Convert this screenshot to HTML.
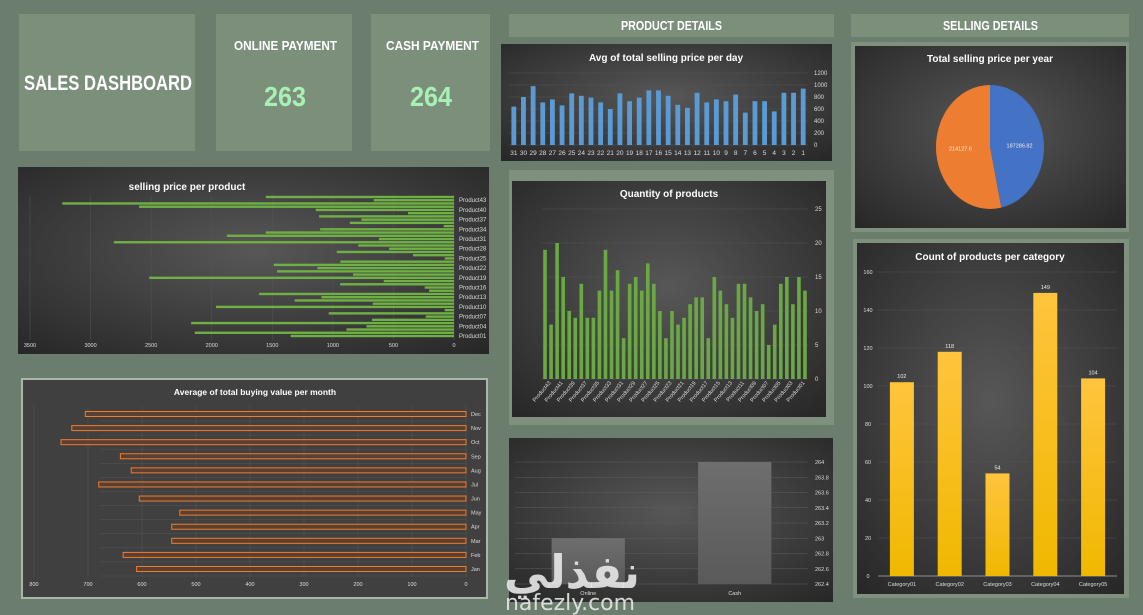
<!DOCTYPE html>
<html><head><meta charset="utf-8">
<style>
html,body{margin:0;padding:0;background:#6b7d6d;width:1143px;height:615px;overflow:hidden;font-family:"Liberation Sans",sans-serif}
svg{display:block}
</style></head>
<body>
<svg id="root" width="1143" height="615" viewBox="0 0 1143 615" xmlns="http://www.w3.org/2000/svg">
<defs>
<radialGradient id="dark" cx="50%" cy="45%" r="75%">
<stop offset="0" stop-color="#575757"/><stop offset="1" stop-color="#262626"/>
</radialGradient>
<linearGradient id="gold" x1="0" y1="0" x2="0" y2="1">
<stop offset="0" stop-color="#ffc43d"/><stop offset="1" stop-color="#f0b800"/>
</linearGradient>
<linearGradient id="grey" x1="0" y1="0" x2="0" y2="1">
<stop offset="0" stop-color="#6e6e6e"/><stop offset="1" stop-color="#5a5a5a"/>
</linearGradient>
</defs>
<rect x="0" y="0" width="1143" height="615" fill="#6b7d6d"/>
<!-- KPI cards -->
<rect x="19" y="14" width="176" height="137" fill="#7b8f7b"/>
<text x="24" y="90" fill="#fff" font-size="21" font-weight="bold" textLength="168" lengthAdjust="spacingAndGlyphs">SALES DASHBOARD</text>
<rect x="216" y="14" width="136" height="137" fill="#7b8f7b"/>
<text x="234" y="50" fill="#fff" font-size="13" font-weight="bold" textLength="103" lengthAdjust="spacingAndGlyphs">ONLINE PAYMENT</text>
<text x="285" y="106" text-anchor="middle" fill="#a8f0b4" font-size="28" font-weight="bold" textLength="42" lengthAdjust="spacingAndGlyphs">263</text>
<rect x="371" y="14" width="119" height="137" fill="#7b8f7b"/>
<text x="386" y="50" fill="#fff" font-size="13" font-weight="bold" textLength="93" lengthAdjust="spacingAndGlyphs">CASH PAYMENT</text>
<text x="431" y="106" text-anchor="middle" fill="#a8f0b4" font-size="28" font-weight="bold" textLength="42" lengthAdjust="spacingAndGlyphs">264</text>
<!-- Section headers -->
<rect x="509" y="14" width="325" height="23" fill="#7b8f7b"/>
<text x="621" y="30" fill="#fff" font-size="13" font-weight="bold" textLength="101" lengthAdjust="spacingAndGlyphs">PRODUCT DETAILS</text>
<rect x="851" y="14" width="278" height="23" fill="#7b8f7b"/>
<text x="943" y="30" fill="#fff" font-size="13" font-weight="bold" textLength="95" lengthAdjust="spacingAndGlyphs">SELLING DETAILS</text>
<!-- chart panels -->
<rect x="501" y="44" width="331" height="117" fill="url(#dark)"/>
<rect x="18" y="167" width="471" height="187" fill="url(#dark)"/>
<rect x="509" y="170" width="325" height="255" fill="#7f907f"/>
<rect x="512" y="181" width="314" height="236" fill="url(#dark)"/>
<rect x="21" y="378" width="467" height="221" fill="#a9b6a9"/>
<rect x="23" y="380" width="463" height="217" fill="#404040"/>
<rect x="509" y="438" width="324" height="164" fill="url(#dark)"/>
<rect x="851" y="42" width="278" height="190" fill="#7f907f"/>
<rect x="855" y="46" width="271" height="182" fill="url(#dark)"/>
<rect x="853" y="239" width="276" height="359" fill="#7f907f"/>
<rect x="857" y="243" width="267" height="351" fill="url(#dark)"/>
<g id="charts"></g>
<!-- watermark -->
<text x="504" y="588" fill="#e8e8e8" fill-opacity="0.9" font-size="46" font-weight="bold" textLength="136" lengthAdjust="spacingAndGlyphs" font-family="DejaVu Sans, sans-serif">نفذلي</text>
<text x="505" y="610" fill="#e8e8e8" fill-opacity="0.9" font-size="22" textLength="130" lengthAdjust="spacingAndGlyphs" font-family="DejaVu Sans, sans-serif">nafezly.com</text>
</svg>
<script>
// ---- data ----
const dayLabels = [31,30,29,28,27,26,25,24,23,22,21,20,19,18,17,16,15,14,13,12,11,10,9,8,7,6,5,4,3,2,1];
const dayValues = [640,800,980,710,760,660,860,820,790,710,600,860,730,790,910,910,820,670,620,870,710,760,730,840,540,730,730,560,870,870,940];
const dayTicks = [0,200,400,600,800,1000,1200];

const qtyValues = [19,8,20,15,10,9,14,9,9,13,19,13,16,6,14,15,13,17,14,10,6,10,8,9,11,12,12,6,15,13,11,9,14,14,12,10,11,5,8,14,15,11,15,13];
const qtyTicks = [0,5,10,15,20,25];

const priceValues = [1554,663,3234,2600,1141,380,1114,765,860,85,1105,1554,1875,620,2808,790,536,968,338,77,938,1488,1128,1460,833,2516,580,940,242,206,1609,1095,1315,671,1964,77,1034,234,677,2170,723,888,2140,1348];
const priceTicks = [0,500,1000,1500,2000,2500,3000,3500];

const months = ["Dec","Nov","Oct","Sep","Aug","Jul","Jun","May","Apr","Mar","Feb","Jan"];
const monthValues = [705,730,750,640,620,680,605,530,545,545,635,610];
const monthTicks = [0,100,200,300,400,500,600,700,800];

const payLabels = ["Online","Cash"];
const payValues = [263,264];
const payTicks = [262.4,262.6,262.8,263,263.2,263.4,263.6,263.8,264];

const pieValues = [187286.82,214127.6];
const pieLabels = ["187286.82","214127.6"];

const catLabels = ["Category01","Category02","Category03","Category04","Category05"];
const catValues = [102,118,54,149,104];
const catTicks = [0,20,40,60,80,100,120,140,160];

const NS="http://www.w3.org/2000/svg";
const G=document.getElementById('charts');
function mk(tag,attrs,parent){const e=document.createElementNS(NS,tag);for(const k in attrs)e.setAttribute(k,attrs[k]);(parent||G).appendChild(e);return e;}
function txt(x,y,s,size,fill,anchor,weight,parent){const t=mk('text',{x:x,y:y,'font-size':size,fill:fill,'text-anchor':anchor||'start','font-weight':weight||'normal'},parent);t.textContent=s;return t;}

// ---- daily avg selling price ----
(function(){
  const x0=509,x1=808,yb=145,yt=73,max=1200;
  const ys=v=>yb-(v/max)*(yb-yt);
  const g=mk('g',{});
  
  
  const tt=txt(666,61,'Avg of total selling price per day',10,'#fff','middle','bold',g);
  
  
  dayTicks.forEach(t=>{mk('line',{x1:x0,x2:x1,y1:ys(t),y2:ys(t),stroke:'#555','stroke-width':0.6},g);txt(814,ys(t)+2,t,6,'#ddd','start','normal',g);});
  const step=(x1-x0)/dayValues.length;
  dayValues.forEach((v,i)=>{
    const b=mk('rect',{x:x0+i*step+step*0.25,y:ys(v),width:step*0.5,height:yb-ys(v),fill:'#5b9bd5'},g);
    
    
    txt(x0+i*step+step/2,155,dayLabels[i],6.5,'#ddd','middle','normal',g);
  });
})();

// ---- quantity of products ----
(function(){
  const x0=542,x1=808,yb=379,yt=209,max=25;
  const ys=v=>yb-(v/max)*(yb-yt);
  const g=mk('g',{});
  
  
  const tt=txt(669,197,'Quantity of products',10,'#fff','middle','bold',g);
  
  
  qtyTicks.forEach(t=>{mk('line',{x1:x0,x2:x1,y1:ys(t),y2:ys(t),stroke:'#555','stroke-width':0.6},g);txt(815,ys(t)+2,t,6,'#ddd','start','normal',g);});
  const step=(x1-x0)/qtyValues.length;
  qtyValues.forEach((v,i)=>{
    const b=mk('rect',{x:x0+i*step+step*0.2,y:ys(v),width:step*0.6,height:yb-ys(v),fill:'#6aa844'},g);
    
    
    const num=44-i;
    if(num%2===1){
      const cx=x0+i*step+step/2, cy=383;
      const l=txt(cx,cy,'Product'+String(num).padStart(2,'0'),5.5,'#ddd','end','normal',g);
      l.setAttribute('transform','rotate(-50 '+cx+' '+cy+')');
    }
  });
})();

// ---- selling price per product ----
(function(){
  const x0=454,xL=30,max=3500,yt=197,yb=336;
  const xs=v=>x0-(v/max)*(x0-xL);
  const g=mk('g',{});
  
  
  const tt=txt(187,190,'selling price per product',10,'#fff','middle','bold',g);
  
  
  priceTicks.forEach(t=>{mk('line',{x1:xs(t),x2:xs(t),y1:195,y2:340,stroke:'#555','stroke-width':0.5},g);txt(xs(t),347,t,5.5,'#ddd','middle','normal',g);});
  const n=priceValues.length, step=(yb-yt)/(n-1);
  priceValues.forEach((v,i)=>{
    const y=yt+i*step;
    const b=mk('rect',{x:xs(v),y:y-1.2,width:x0-xs(v),height:2.4,fill:'#6fb044'},g);
    
    
    const num=45-(i+1);
    if((num-1)%3===0) txt(459,y+2,'Product'+String(num).padStart(2,'0'),6,'#ddd','start','normal',g);
  });
})();

// ---- avg buying value per month ----
(function(){
  const x0=466,xL=34,max=800,yt=414,yb=569;
  const xs=v=>x0-(v/max)*(x0-xL);
  const g=mk('g',{});
  
  
  const tt=txt(255,395,'Average of total buying value per month',8.5,'#fff','middle','bold',g);
  
  
  monthTicks.forEach(t=>{mk('line',{x1:xs(t),x2:xs(t),y1:406,y2:577,stroke:'#5a5a5a','stroke-width':0.5},g);txt(xs(t),586,t,5.5,'#ddd','middle','normal',g);});
  const step=(yb-yt)/(monthValues.length-1);
  monthValues.forEach((v,i)=>{
    const y=yt+i*step;
    mk('line',{x1:100,x2:x0,y1:y+7,y2:y+7,stroke:'#555','stroke-width':0.5},g);
    const b=mk('rect',{x:xs(v),y:y-2.5,width:x0-xs(v),height:5,fill:'#5a4030',stroke:'#ed7d31','stroke-width':1},g);
    
    
    txt(471,y+2,months[i],5.5,'#ddd','start','normal',g);
  });
})();

// ---- payment comparison ----
(function(){
  const mn=262.4,mx=264,yb=584,yt=462,x0=515,x1=808;
  const ys=v=>yb-((v-mn)/(mx-mn))*(yb-yt);
  const g=mk('g',{});
  
  
  payTicks.forEach(t=>{mk('line',{x1:x0,x2:x1,y1:ys(t),y2:ys(t),stroke:'#5c5c5c','stroke-width':0.6},g);txt(815,ys(t)+2,String(t),5.5,'#ddd','start','normal',g);});
  const step=(x1-x0)/payValues.length;
  payValues.forEach((v,i)=>{
    const b=mk('rect',{x:x0+i*step+step*0.25,y:ys(v),width:step*0.5,height:yb-ys(v),fill:'url(#grey)'},g);
    
    
    txt(x0+i*step+step/2,595,payLabels[i],5.5,'#ddd','middle','normal',g);
  });
})();

// ---- pie ----
(function(){
  const cx=990,cy=147,rx=54,ry=62;
  const g=mk('g',{});
  
  
  const tt=txt(990,62,'Total selling price per year',10,'#fff','middle','bold',g);
  
  
  const tot=pieValues.reduce((a,b)=>a+b,0);
  const colors=['#4472c4','#ed7d31'];
  let a=-Math.PI/2;
  pieValues.forEach((v,i)=>{
    const da=v/tot*2*Math.PI, a2=a+da;
    const p=(t)=>[cx+rx*Math.cos(t),cy+ry*Math.sin(t)];
    const [x1,y1]=p(a),[x2,y2]=p(a2);
    const s=mk('path',{d:`M${cx},${cy} L${x1},${y1} A${rx},${ry} 0 ${da>Math.PI?1:0} 1 ${x2},${y2} Z`,fill:colors[i]},g);
    
    
    const m=a+da/2;
    txt(cx+rx*0.55*Math.cos(m),cy+ry*0.2*Math.sin(m)+2,pieLabels[i],5.5,'#eee','middle','normal',g);
    a=a2;
  });
})();

// ---- category ----
(function(){
  const x0=878,x1=1117,yb=576,yt=272,max=160;
  const ys=v=>yb-(v/max)*(yb-yt);
  const g=mk('g',{});
  
  
  const tt=txt(990,260,'Count of products per category',10,'#fff','middle','bold',g);
  
  
  catTicks.forEach(t=>{mk('line',{x1:x0,x2:x1,y1:ys(t),y2:ys(t),stroke:'#555','stroke-width':0.6},g);txt(868,ys(t)+2,t,5.5,'#ddd','middle','normal',g);});
  mk('line',{x1:x0,x2:x1,y1:yb,y2:yb,stroke:'#aaa','stroke-width':0.8},g);
  const step=(x1-x0)/catValues.length;
  catValues.forEach((v,i)=>{
    const cx=x0+i*step+step/2;
    const b=mk('rect',{x:cx-12,y:ys(v),width:24,height:yb-ys(v),fill:'url(#gold)'},g);
    
    
    txt(cx,ys(v)-4,v,5.5,'#eee','middle','normal',g);
    txt(cx,586,catLabels[i],5.5,'#ddd','middle','normal',g);
  });
})();
</script>
</body></html>
